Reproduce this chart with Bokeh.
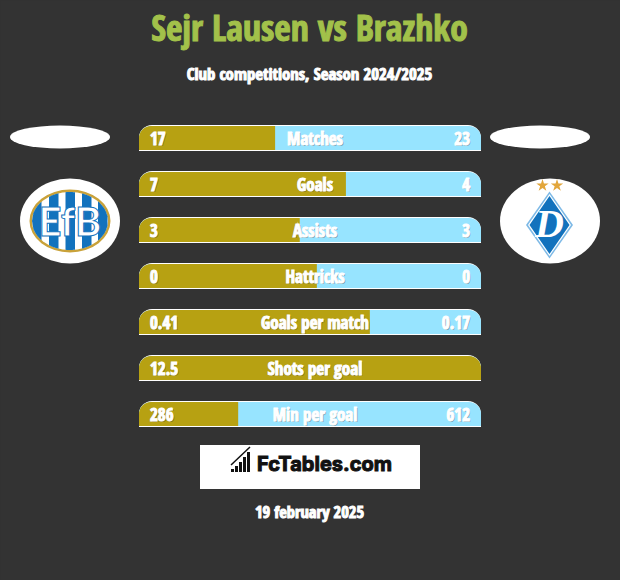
from bokeh.plotting import figure
from bokeh.embed import file_html
from bokeh.resources import INLINE
from bokeh.core.properties import value
from bokeh.models import GlobalInlineStyleSheet
import numpy as np

title = "Sejr Lausen vs Brazhko"
subtitle = "Club competitions, Season 2024/2025"
date_label = "19 february 2025"
brand = "FcTables.com"
categories = ["Matches", "Goals", "Assists", "Hattricks", "Goals per match", "Shots per goal", "Min per goal"]
left_labels = ["17", "7", "3", "0", "0.41", "12.5", "286"]
right_labels = ["23", "4", "3", "0", "0.17", "", "612"]
gold_share = [0.398, 0.605, 0.47, 0.52, 0.675, 1.0, 0.29]

BG = "#333333"
GOLD = "#b7a112"
BLUE = "#97e4ff"
GREEN = "#a2c14a"
FONT = value("Open Sans Condensed")

p = figure(width=620, height=580, x_range=(0.5, 620.5), y_range=(-0.5, 579.5),
           toolbar_location=None, output_backend="svg", min_border=0,
           background_fill_color=BG, border_fill_color=BG, outline_line_color=None)
p.axis.visible = False
p.grid.visible = False
p.stylesheets = [GlobalInlineStyleSheet(css=f"html,body{{background:{BG};overflow:hidden;}}")]


def Y(py):
    return 580 - np.asarray(py, dtype=float)


def label(x, y, s, size, color="#ffffff", align="center", shadow=False, font=FONT, style="bold"):
    if shadow:
        p.text([x + 1.2], Y([y + 1.2]), text=[s], text_font=font, text_font_size=size, text_font_style=style,
               text_color="#333333", text_alpha=0.38, text_align=align, text_baseline="middle")
    p.text([x], Y([y]), text=[s], text_font=font, text_font_size=size, text_font_style=style,
           text_color=color, text_outline_color=color, text_align=align, text_baseline="middle")


# Headings
label(309.5, 26.5, title, "35.7px", GREEN)
label(309.5, 73.5, subtitle, "16.8px")

# Bars
BAR_L, BAR_R = 139, 481
for i, cat in enumerate(categories):
    cy = 138 + 46 * i
    p.hbar(y=Y([cy]), left=[BAR_L], right=[BAR_R], height=26, fill_color="#ffffff", line_color=None,
           border_radius=(13, 13, 0, 0))
    p.hbar(y=Y([cy]), left=[BAR_L], right=[BAR_R], height=24, fill_color=BLUE, line_color=None,
           border_radius=(12, 12, 0, 0))
    split = BAR_L + (BAR_R - BAR_L) * gold_share[i]
    radius = (12, 12, 0, 0) if gold_share[i] >= 1 else (12, 0, 0, 0)
    p.hbar(y=Y([cy]), left=[BAR_L], right=[split], height=24, fill_color=GOLD, line_color=None,
           border_radius=radius)
    label(150, cy, left_labels[i], "17px", align="left", shadow=True)
    label(315, cy, cat, "17px", shadow=True)
    if right_labels[i]:
        label(470, cy, right_labels[i], "17px", align="right", shadow=True)

# Side ovals
p.ellipse([60, 540], Y([137, 137]), width=100, height=23, fill_color="#ffffff", line_color=None)
p.ellipse([70, 550], Y([221, 221]), width=100, height=85, fill_color="#ffffff", line_color=None)

# EfB crest
cx, cy = 70, 221
p.ellipse([cx], Y([cy]), width=81, height=63, fill_color="#c9a23a", line_color=None)
p.ellipse([cx], Y([cy]), width=76, height=58, fill_color="#ffffff", line_color=None)
rx, ry = 38, 29
for x0 in [-38, -21, -4.5, 12, 28]:
    xs = np.linspace(x0, min(x0 + 9.5, 38), 8)
    half = ry * np.sqrt(np.clip(1 - (xs / rx) ** 2, 0, 1))
    px = np.r_[xs, xs[::-1]] + cx
    py = np.r_[cy - half, (cy + half)[::-1]]
    p.patch(px, Y(py), fill_color="#1272bd", line_color=None)
p.text([cx], Y([cy]), text=["EfB"], text_font=value("Lato"), text_font_size="40px",
       text_font_style="bold", text_color="#ffffff", text_outline_color="#1272bd",
       text_align="center", text_baseline="middle")

# Dynamo crest
dx0, dy0 = 549.5, 225
for hw, hh, col in [(23.5, 33.5, "#7db9e6"), (21.5, 31, "#ffffff"), (20, 29, "#1272bd")]:
    p.patch([dx0, dx0 + hw, dx0, dx0 - hw], Y([dy0 - hh, dy0, dy0 + hh, dy0]), fill_color=col, line_color=None)
p.text([dx0], Y([dy0 - 2]), text=["D"], text_font=value("Liberation Serif"), text_font_size="40px",
       text_font_style="bold italic", text_color="#ffffff", text_align="center", text_baseline="middle")
p.scatter([542.5, 557], Y([185.5, 185.5]), marker="star", size=13, fill_color="#e2a63b", line_color=None)

# Brand box
p.quad(left=[200], right=[420], top=Y([445]), bottom=Y([489]), fill_color="#ffffff", line_color=None)
bar_heights = [3, 6, 10, 15, 20]
p.vbar(x=[232.5, 236.5, 240.5, 244.5, 248.5], width=3, bottom=Y([472] * 5), top=Y(472 - np.array(bar_heights)),
       fill_color="#111111", line_color=None)
p.line([231, 250], Y([465, 447]), line_color="#111111", line_width=1.5)
label(257, 464, brand, "20px", color="#111111", align="left", font=value("Inter"))
label(309.5, 511, date_label, "16.5px")

open("out.html", "w").write(file_html(p, INLINE))
